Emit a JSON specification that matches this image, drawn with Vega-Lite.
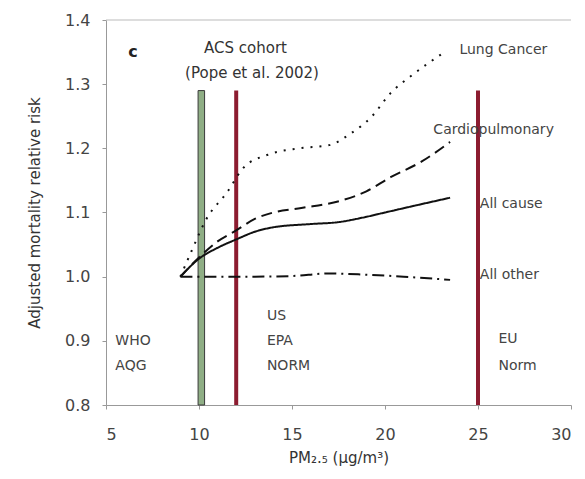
{
  "$schema": "https://vega.github.io/schema/vega-lite/v6.json",
  "autosize": {"type": "none"},
  "padding": {"left": 106, "top": 20, "right": 14, "bottom": 74},
  "width": 465,
  "height": 385,
  "background": "white",
  "config": {
    "view": {"stroke": null},
    "font": "DejaVu Sans",
    "axis": {
      "grid": false,
      "domainColor": "#999",
      "tickColor": "#999",
      "tickSize": 4,
      "labelFont": "DejaVu Sans",
      "labelFontSize": 16,
      "labelColor": "#444",
      "titleFont": "DejaVu Sans",
      "titleFontSize": 15,
      "titleFontWeight": "normal",
      "titleColor": "#333"
    }
  },
  "datasets": {
    "curves": [
      {"series": "Lung Cancer", "pm": 9.0, "rr": 1.0},
      {"series": "Lung Cancer", "pm": 9.6, "rr": 1.04},
      {"series": "Lung Cancer", "pm": 10.4, "rr": 1.09},
      {"series": "Lung Cancer", "pm": 11.5, "rr": 1.131},
      {"series": "Lung Cancer", "pm": 12.4, "rr": 1.17},
      {"series": "Lung Cancer", "pm": 13.7, "rr": 1.19},
      {"series": "Lung Cancer", "pm": 15.4, "rr": 1.2},
      {"series": "Lung Cancer", "pm": 17.0, "rr": 1.205},
      {"series": "Lung Cancer", "pm": 18.1, "rr": 1.222},
      {"series": "Lung Cancer", "pm": 19.3, "rr": 1.25},
      {"series": "Lung Cancer", "pm": 20.3, "rr": 1.286},
      {"series": "Lung Cancer", "pm": 21.5, "rr": 1.315},
      {"series": "Lung Cancer", "pm": 23.1, "rr": 1.348},
      {"series": "Cardiopulmonary", "pm": 9.0, "rr": 1.0},
      {"series": "Cardiopulmonary", "pm": 10.0, "rr": 1.03},
      {"series": "Cardiopulmonary", "pm": 11.0, "rr": 1.055},
      {"series": "Cardiopulmonary", "pm": 12.0, "rr": 1.072},
      {"series": "Cardiopulmonary", "pm": 13.0, "rr": 1.09},
      {"series": "Cardiopulmonary", "pm": 14.0, "rr": 1.1},
      {"series": "Cardiopulmonary", "pm": 15.5, "rr": 1.107},
      {"series": "Cardiopulmonary", "pm": 17.7, "rr": 1.119},
      {"series": "Cardiopulmonary", "pm": 19.0, "rr": 1.133},
      {"series": "Cardiopulmonary", "pm": 20.3, "rr": 1.155},
      {"series": "Cardiopulmonary", "pm": 22.0, "rr": 1.18},
      {"series": "Cardiopulmonary", "pm": 23.5, "rr": 1.21},
      {"series": "All cause", "pm": 9.0, "rr": 1.0},
      {"series": "All cause", "pm": 10.0, "rr": 1.028},
      {"series": "All cause", "pm": 11.0, "rr": 1.045},
      {"series": "All cause", "pm": 12.0, "rr": 1.058},
      {"series": "All cause", "pm": 13.0, "rr": 1.07},
      {"series": "All cause", "pm": 14.0, "rr": 1.077},
      {"series": "All cause", "pm": 16.0, "rr": 1.082},
      {"series": "All cause", "pm": 17.5, "rr": 1.085},
      {"series": "All cause", "pm": 18.8, "rr": 1.092},
      {"series": "All cause", "pm": 20.0, "rr": 1.1},
      {"series": "All cause", "pm": 21.5, "rr": 1.11},
      {"series": "All cause", "pm": 23.5, "rr": 1.123},
      {"series": "All other", "pm": 9.0, "rr": 1.0},
      {"series": "All other", "pm": 11.0, "rr": 1.0},
      {"series": "All other", "pm": 13.0, "rr": 1.0},
      {"series": "All other", "pm": 15.0, "rr": 1.001},
      {"series": "All other", "pm": 17.0, "rr": 1.005},
      {"series": "All other", "pm": 19.0, "rr": 1.003},
      {"series": "All other", "pm": 21.0, "rr": 1.0},
      {"series": "All other", "pm": 23.5, "rr": 0.995}
    ],
    "redlines": [
      {"pm": 12, "lo": 0.8, "hi": 1.29},
      {"pm": 25, "lo": 0.8, "hi": 1.29}
    ],
    "greenbar": [
      {"pm": 9.95, "pm2": 10.3, "lo": 0.8, "hi": 1.29}
    ],
    "labels": [
      {"text": "Lung Cancer", "pm": 24.0, "rr": 1.353},
      {"text": "Cardiopulmonary", "pm": 22.6, "rr": 1.228},
      {"text": "All cause", "pm": 25.1, "rr": 1.114},
      {"text": "All other", "pm": 25.1, "rr": 1.002},
      {"text": "WHO", "pm": 5.5, "rr": 0.9},
      {"text": "AQG", "pm": 5.5, "rr": 0.861},
      {"text": "US", "pm": 13.65, "rr": 0.939},
      {"text": "EPA", "pm": 13.65, "rr": 0.9},
      {"text": "NORM", "pm": 13.65, "rr": 0.861},
      {"text": "EU", "pm": 26.1, "rr": 0.903},
      {"text": "Norm", "pm": 26.1, "rr": 0.861}
    ],
    "titles": [
      {"text": "ACS cohort", "pm": 12.5, "rr": 1.356},
      {"text": "(Pope et al. 2002)", "pm": 12.85, "rr": 1.317}
    ]
  },
  "layer": [
    {
      "data": {"name": "greenbar"},
      "mark": {"type": "rect", "fill": "#8fae85", "stroke": "#3a3a3a", "strokeWidth": 1},
      "encoding": {
        "x": {"field": "pm", "type": "quantitative", "scale": {"domain": [5, 30], "nice": false},
          "axis": {"values": [5, 10, 15, 20, 25, 30], "title": "PM₂.₅ (µg/m³)", "labelPadding": 17, "titlePadding": 8}},
        "x2": {"field": "pm2"},
        "y": {"field": "lo", "type": "quantitative", "scale": {"domain": [0.8, 1.4], "nice": false, "zero": false},
          "axis": {"values": [0.8, 0.9, 1.0, 1.1, 1.2, 1.3, 1.4], "format": ".1f", "title": "Adjusted mortality relative risk", "labelPadding": 12, "titlePadding": 22}},
        "y2": {"field": "hi"}
      }
    },
    {
      "data": {"name": "redlines"},
      "mark": {"type": "rule", "color": "#8c1c30", "strokeWidth": 4},
      "encoding": {
        "x": {"field": "pm", "type": "quantitative"},
        "y": {"field": "lo", "type": "quantitative"},
        "y2": {"field": "hi"}
      }
    },
    {
      "data": {"name": "curves"},
      "mark": {"type": "line", "color": "#111", "strokeWidth": 2, "interpolate": "monotone"},
      "encoding": {
        "x": {"field": "pm", "type": "quantitative"},
        "y": {"field": "rr", "type": "quantitative"},
        "detail": {"field": "series"},
        "strokeDash": {"field": "series", "type": "nominal", "legend": null,
          "scale": {"domain": ["Lung Cancer", "Cardiopulmonary", "All cause", "All other"],
                    "range": [[2, 7], [11, 6], [1, 0], [12, 5, 2, 5]]}}
      }
    },
    {
      "data": {"name": "labels"},
      "mark": {"type": "text", "fontSize": 14, "color": "#444", "baseline": "middle", "align": "left"},
      "encoding": {
        "x": {"field": "pm", "type": "quantitative"},
        "y": {"field": "rr", "type": "quantitative"},
        "text": {"field": "text"}
      }
    },
    {
      "data": {"name": "titles"},
      "mark": {"type": "text", "fontSize": 15, "color": "#333", "baseline": "middle", "align": "center"},
      "encoding": {
        "x": {"field": "pm", "type": "quantitative"},
        "y": {"field": "rr", "type": "quantitative"},
        "text": {"field": "text"}
      }
    },
    {
      "data": {"values": [{"t": "c", "pm": 6.2, "rr": 1.35}]},
      "mark": {"type": "text", "fontSize": 16, "fontWeight": "bold", "color": "#222", "align": "left", "baseline": "middle"},
      "encoding": {
        "x": {"field": "pm", "type": "quantitative"},
        "y": {"field": "rr", "type": "quantitative"},
        "text": {"field": "t"}
      }
    },
    {
      "data": {"values": [{"rr": 1.4}]},
      "mark": {"type": "rule", "color": "#bbb", "strokeWidth": 1},
      "encoding": {"y": {"field": "rr", "type": "quantitative"}}
    }
  ]
}
